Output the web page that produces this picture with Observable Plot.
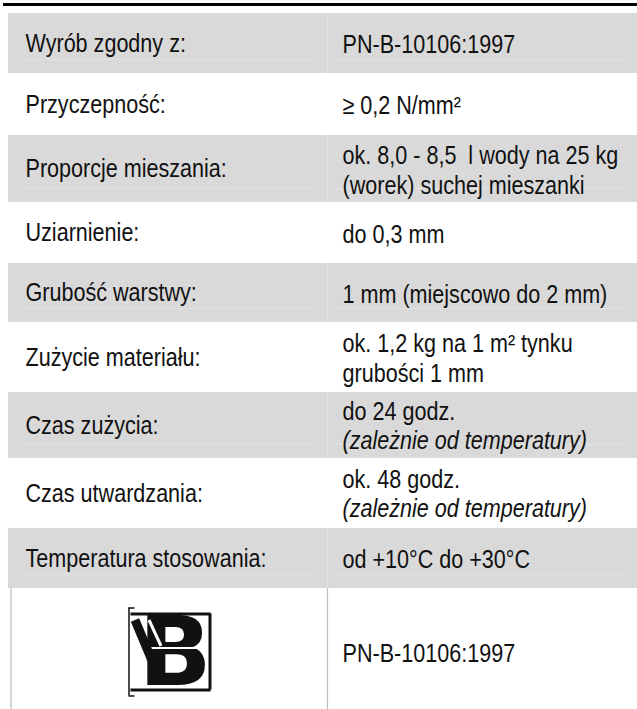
<!DOCTYPE html>
<html><head><meta charset="utf-8">
<script src="https://cdn.jsdelivr.net/npm/d3@7"></script>
<script src="https://cdn.jsdelivr.net/npm/@observablehq/plot@0.6"></script>
<style>html,body{margin:0;padding:0;background:#fff;} svg{display:block}</style>
</head><body><div id="chart"></div>
<script>
// ---- data ----
const labels = ["Wyrób zgodny z:", "Przyczepność:", "Proporcje mieszania:", "Uziarnienie:", "Grubość warstwy:", "Zużycie materiału:", "Czas zużycia:", "Czas utwardzania:", "Temperatura stosowania:"];
const values = ["PN-B-10106:1997", "≥ 0,2 N/mm²", "ok. 8,0 - 8,5  l wody na 25 kg\n(worek) suchej mieszanki", "do 0,3 mm", "1 mm (miejscowo do 2 mm)", "ok. 1,2 kg na 1 m² tynku\ngrubości 1 mm", "do 24 godz.", "ok. 48 godz.", "od +10°C do +30°C"];
const notes = ["", "", "", "", "", "", "(zależnie od temperatury)", "(zależnie od temperatury)", ""];
const shaded = [true, false, true, false, true, false, true, false, true];
const certText = ["PN-B-10106:1997"];
const logoText = ["B"];

// ---- layout ----
const W = 637, H = 709;
const rowH = [60, 62, 67, 61, 59, 70, 66, 70, 60];
const top0 = 13, colX = 327, leftX = 8, textL = 25, textR = 342;
let acc = top0;
const rows = labels.map((label, i) => {
  const y1 = acc; acc += rowH[i];
  return {label, value: values[i], note: notes[i], shaded: shaded[i], y1, y2: acc, yc: (y1 + acc) / 2};
});
const logoY1 = acc, logoY2 = H;
const logoCx = (10 + colX) / 2, logoCy = (logoY1 + logoY2) / 2 + 3;
const font = "Liberation Sans, Arial, sans-serif";
const fs = 26;
const squeeze = 0.83; // condensed look of the reference typeface

const plot = Plot.plot({
  width: W, height: H,
  margin: 0,
  x: {domain: [0, W], range: [0, W], axis: null},
  y: {domain: [0, H], range: [0, H], axis: null},
  style: {background: "#fff"},
  marks: [
    // top rule
    Plot.ruleY([4], {x1: 3, x2: W, stroke: "#000", strokeWidth: 3}),
    // shaded rows
    Plot.rect(rows.filter(d => d.shaded), {x1: leftX, x2: W, y1: "y1", y2: "y2", fill: "#d9d9d9"}),
    // faint inner cell borders in shaded rows
    Plot.ruleX(rows.filter(d => d.shaded), {x: colX, y1: "y1", y2: "y2", stroke: "#e2e2e2", strokeWidth: 1}),
    Plot.ruleY(rows.filter(d => d.shaded), {y: d => d.y2 - 14, x1: textL, x2: colX - 10, stroke: "#e2e2e2", strokeWidth: 1}),
    Plot.ruleY(rows.filter(d => d.shaded), {y: d => d.y2 - 14, x1: textR - 6, x2: W - 8, stroke: "#e2e2e2", strokeWidth: 1}),
    // labels
    Plot.text(rows, {x: textL, y: "yc", text: "label", textAnchor: "start", fontSize: fs, fontFamily: font, fill: "#111"}),
    // values
    Plot.text(rows, {x: textR, y: d => d.note ? d.yc - 15 : d.yc, text: "value", textAnchor: "start", lineHeight: 1.15, fontSize: fs, fontFamily: font, fill: "#111"}),
    Plot.text(rows.filter(d => d.note), {x: textR, y: d => d.yc + 15, text: "note", textAnchor: "start", fontSize: fs, fontStyle: "italic", fontFamily: font, fill: "#111"}),
    // logo row borders
    Plot.ruleX([10.5, colX], {y1: logoY1, y2: logoY2, stroke: "#bdbdbd", strokeWidth: 1.2}),
    Plot.text(certText, {x: textR, y: logoCy + 2, text: d => d, textAnchor: "start", fontSize: fs, fontFamily: font, fill: "#111"}),
    // logo: frame + bracket + heavy B
    Plot.ruleY([logoCy - 38, logoCy + 38], {x1: logoCx - 38, x2: logoCx + 42, stroke: "#111", strokeWidth: 3}),
    Plot.ruleX([logoCx + 41], {y1: logoCy - 38, y2: logoCy + 38, stroke: "#111", strokeWidth: 3}),
    Plot.ruleX([logoCx - 40], {y1: logoCy - 44, y2: logoCy + 44, stroke: "#111", strokeWidth: 1.5}),
    Plot.ruleY([logoCy - 44, logoCy + 44], {x1: logoCx - 40, x2: logoCx - 34, stroke: "#111", strokeWidth: 1.5}),
    Plot.text(logoText, {x: logoCx + 6, y: logoCy + 2, text: d => d, fontSize: 96, fontWeight: 900, fontFamily: "DejaVu Sans", fill: "#111"}),
    Plot.ruleY([logoCy - 4], {x1: logoCx - 34, x2: logoCx + 30, stroke: "#fff", strokeWidth: 2}),
    Plot.link([0], {x1: logoCx - 34, y1: logoCy - 32, x2: logoCx - 8, y2: logoCy + 30, stroke: "#111", strokeWidth: 9}),
    Plot.link([0], {x1: logoCx - 20, y1: logoCy - 32, x2: logoCx - 8, y2: logoCy - 6, stroke: "#fff", strokeWidth: 3})
  ]
});
// condense the table texts horizontally (not the logo glyph)
d3.select(plot).selectAll("text")
  .filter(function () { return this.textContent !== "B"; })
  .each(function () {
    const t = this.getAttribute("transform");
    if (t) this.setAttribute("transform", t + ` scale(${squeeze},1)`);
  });
document.getElementById("chart").append(plot);
</script>
</body></html>
